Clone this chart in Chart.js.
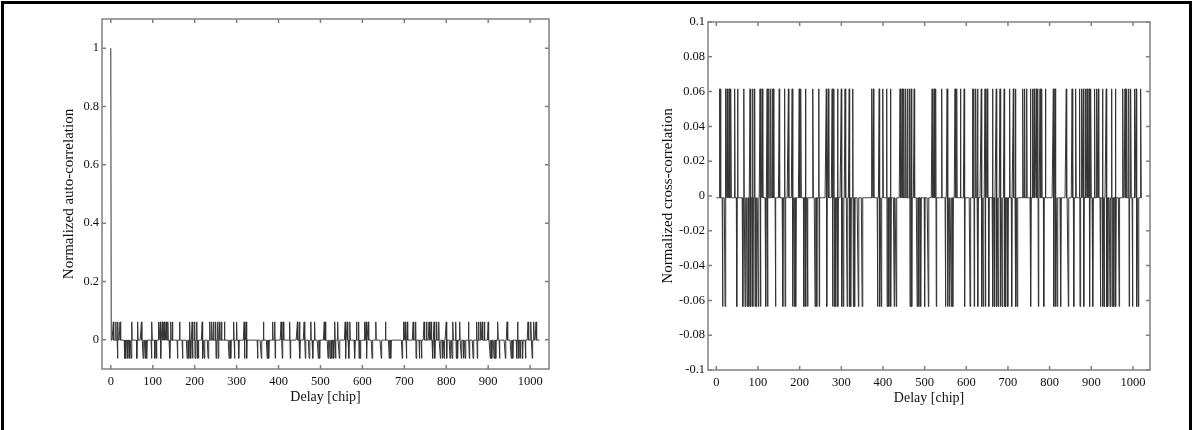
<!DOCTYPE html>
<html lang="en">
<head>
    <meta charset="UTF-8">
    <title>correlation</title>
    <script src="https://cdn.jsdelivr.net/npm/chart.js@4.4.1/dist/chart.umd.min.js"></script>
    <style>
        html, body {
            margin: 0;
            padding: 0;
            background: #fff;
            overflow: hidden;
        }

        .frame {
            position: absolute;
            left: 1px;
            top: 1px;
            width: 1185px;
            height: 600px;
            border: 3px solid #000;
        }

        #canvas1 {
            position: absolute;
            left: 0;
            top: 0;
        }

        #canvas2 {
            position: absolute;
            left: 596px;
            top: 0;
        }
    </style>
</head>
<body>

<div class="frame"></div>
<canvas id="canvas1" width="596" height="430"></canvas>
<canvas id="canvas2" width="597" height="430"></canvas>

<script>
    // levels
    var levelHigh = 0.0616;
    var levelLow = -0.0635;
    var levelBase = -0.001;
    var autoPeak = 1;
    var codeLength = 1023;

    // delays where the auto-correlation jumps up / down
    var autoUp = [6, 12, 17, 22, 50, 64, 73, 98, 114, 118, 123, 127, 132, 136, 143, 147, 164, 188, 194, 200,
        205, 218, 236, 241, 245, 250, 255, 259, 264, 271, 293, 300, 318, 323, 364, 386, 391, 406, 411, 427,
        445, 450, 461, 477, 486, 509, 512, 534, 541, 559, 564, 570, 586, 591, 605, 609, 614, 632, 655, 698,
        702, 707, 721, 727, 747, 753, 759, 764, 771, 777, 782, 800, 816, 823, 832, 853, 873, 877, 882, 886,
        891, 900, 923, 945, 970, 995, 1002, 1009, 1014];
    var autoDown = [16, 33, 36, 41, 45, 49, 62, 77, 82, 86, 97, 105, 109, 119, 141, 159, 171, 182, 186, 191,
        195, 201, 206, 209, 219, 223, 232, 251, 256, 282, 286, 295, 305, 319, 324, 350, 359, 373, 377, 392,
        409, 428, 451, 464, 473, 482, 495, 498, 518, 523, 527, 532, 536, 545, 560, 568, 582, 592, 595, 610,
        623, 645, 664, 668, 695, 705, 728, 736, 741, 768, 773, 786, 791, 795, 801, 809, 814, 824, 827, 836,
        841, 845, 855, 864, 874, 905, 909, 914, 918, 927, 941, 955, 959, 968, 973, 977, 982, 989, 1005];

    // delays where the cross-correlation jumps up / down
    var crossUp = [8, 10, 22, 26, 31, 35, 44, 51, 66, 81, 87, 92, 105, 110, 122, 126, 131, 135, 137, 151,
        164, 173, 182, 199, 203, 214, 232, 246, 264, 269, 278, 282, 291, 300, 309, 319, 328, 373, 377, 391,
        400, 409, 418, 441, 446, 450, 455, 459, 464, 468, 475, 518, 523, 527, 541, 554, 573, 577, 586, 595,
        615, 618, 623, 627, 636, 645, 650, 663, 672, 681, 691, 704, 713, 718, 736, 740, 745, 754, 759, 763,
        768, 772, 777, 781, 790, 809, 813, 840, 854, 863, 872, 877, 881, 886, 890, 895, 899, 908, 913, 917,
        927, 936, 949, 958, 976, 981, 985, 990, 995, 1004, 1008, 1019];
    var crossDown = [15, 21, 49, 64, 69, 74, 78, 83, 88, 93, 96, 101, 106, 119, 123, 142, 160, 165, 183, 187,
        191, 210, 215, 219, 237, 241, 247, 265, 279, 283, 287, 292, 301, 305, 314, 320, 323, 329, 332, 341,
        350, 387, 392, 396, 410, 414, 419, 427, 432, 465, 469, 482, 486, 491, 500, 509, 528, 550, 555, 559,
        564, 568, 596, 609, 619, 628, 637, 641, 646, 654, 664, 668, 673, 677, 682, 686, 692, 695, 700, 709,
        719, 722, 755, 773, 786, 810, 814, 818, 827, 845, 858, 873, 882, 896, 904, 922, 928, 931, 937, 940,
        945, 950, 954, 959, 967, 991, 999, 1009, 1013];

    var xTicks = [0, 100, 200, 300, 400, 500, 600, 700, 800, 900, 1000];
    var autoYTicks = [0, 0.2, 0.4, 0.6, 0.8, 1];
    var crossYTicks = [-0.1, -0.08, -0.06, -0.04, -0.02, 0, 0.02, 0.04, 0.06, 0.08, 0.1];

    Chart.defaults.font.family = '"Liberation Serif", "Times New Roman", serif';
    Chart.defaults.color = '#111';

    function buildPoints(up, down, peak) {
        var pts = [];
        for (var d = 0; d < codeLength; d++) {
            var v = levelBase;
            if (d === 0 && peak !== null) v = peak;
            else if (up.indexOf(d) >= 0) v = levelHigh;
            else if (down.indexOf(d) >= 0) v = levelLow;
            pts.push({x: d, y: v});
        }
        return pts;
    }

    function fmt(v) {
        return String(Number(v.toFixed(2)));
    }

    // box round the plot with short ticks pointing inwards on all four sides
    var frameTicks = {
        id: 'frameTicks',
        afterDatasetsDraw: function (chart) {
            var ctx = chart.ctx, a = chart.chartArea;
            var x = chart.scales.x, y = chart.scales.y;
            ctx.save();
            ctx.strokeStyle = '#808080';
            ctx.lineWidth = 1.5;
            ctx.strokeRect(a.left, a.top, a.right - a.left, a.bottom - a.top);
            ctx.beginPath();
            x.ticks.forEach(function (t) {
                var px = x.getPixelForValue(t.value);
                ctx.moveTo(px, a.bottom);
                ctx.lineTo(px, a.bottom - 4);
                ctx.moveTo(px, a.top);
                ctx.lineTo(px, a.top + 4);
            });
            y.ticks.forEach(function (t) {
                var py = y.getPixelForValue(t.value);
                ctx.moveTo(a.left, py);
                ctx.lineTo(a.left + 4, py);
                ctx.moveTo(a.right, py);
                ctx.lineTo(a.right - 4, py);
            });
            ctx.stroke();
            ctx.restore();
        }
    };

    function makeChart(id, pts, opt) {
        var ctx = document.getElementById(id).getContext('2d');
        return new Chart(ctx, {
            type: 'scatter',
            data: {
                datasets: [{
                    data: pts,
                    showLine: true,
                    borderColor: '#333',
                    borderWidth: 1,
                    pointRadius: 0,
                    tension: 0
                }]
            },
            options: {
                responsive: false,
                animation: false,
                layout: {padding: opt.padding},
                plugins: {
                    legend: {display: false},
                    tooltip: {enabled: false}
                },
                scales: {
                    x: {
                        type: 'linear',
                        min: opt.xMin,
                        max: opt.xMax,
                        grid: {display: false, drawTicks: false},
                        border: {display: false},
                        afterBuildTicks: function (s) {
                            s.ticks = xTicks.map(function (v) { return {value: v}; });
                        },
                        afterFit: function (s) { s.height = 40; },
                        ticks: {
                            padding: 5,
                            font: {size: 12.5},
                            callback: function (v) { return fmt(v); }
                        },
                        title: {
                            display: true,
                            text: 'Delay [chip]',
                            font: {size: 14},
                            padding: {top: 0, bottom: 3}
                        }
                    },
                    y: {
                        type: 'linear',
                        min: opt.yMin,
                        max: opt.yMax,
                        grid: {display: false, drawTicks: false},
                        border: {display: false},
                        afterBuildTicks: function (s) {
                            s.ticks = opt.yTicks.map(function (v) { return {value: v}; });
                        },
                        afterFit: function (s) { s.width = opt.yWidth; },
                        ticks: {
                            padding: 3,
                            font: {size: 12.5},
                            callback: function (v) { return fmt(v); }
                        },
                        title: {
                            display: true,
                            text: opt.yTitle,
                            font: {size: 15},
                            padding: {top: opt.yTitlePad, bottom: 0}
                        }
                    }
                }
            },
            plugins: [frameTicks]
        });
    }

    window.onload = function () {
        makeChart('canvas1', buildPoints(autoUp, autoDown, autoPeak), {
            padding: {left: 50, right: 47, top: 19, bottom: 21},
            xMin: -21, xMax: 1045,
            yMin: -0.1, yMax: 1.1,
            yTicks: autoYTicks,
            yWidth: 52,
            yTitle: 'Normalized auto-correlation',
            yTitlePad: 10
        });
        makeChart('canvas2', buildPoints(crossUp, crossDown, null), {
            padding: {left: 52, right: 43, top: 22, bottom: 20},
            xMin: -20, xMax: 1041,
            yMin: -0.1, yMax: 0.1,
            yTicks: crossYTicks,
            yWidth: 60,
            yTitle: 'Normalized cross-correlation',
            yTitlePad: 11
        });
    };
</script>
</body>
</html>
